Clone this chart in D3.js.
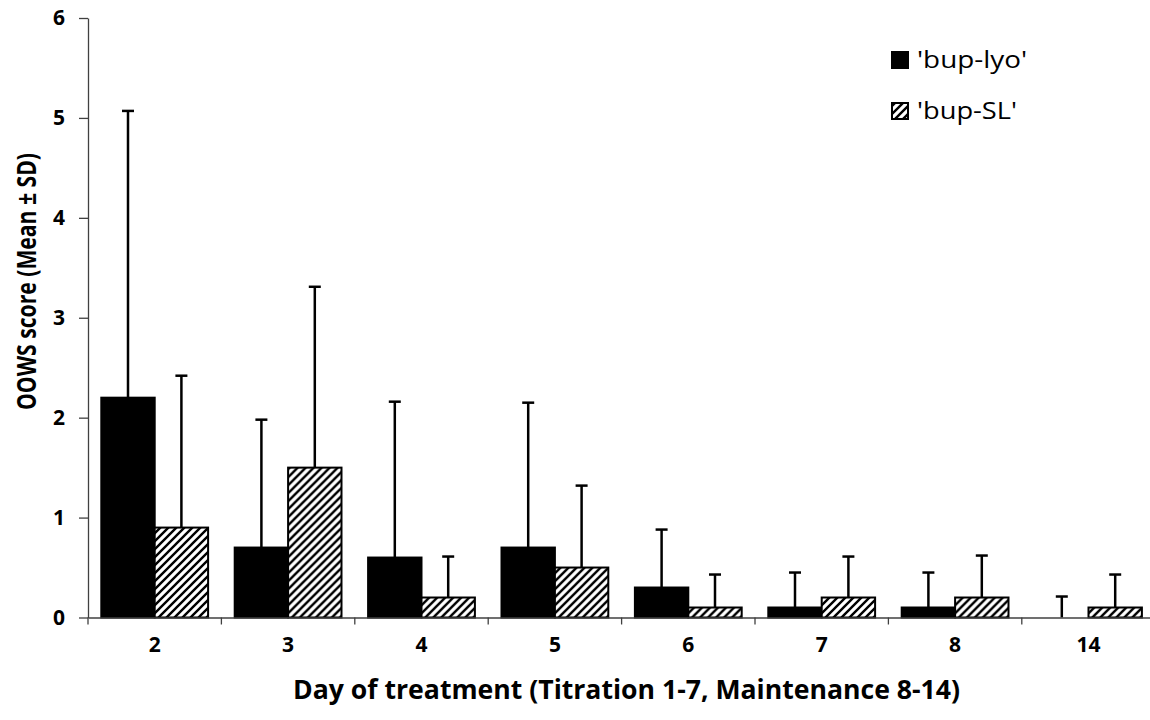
<!DOCTYPE html>
<html>
<head>
<meta charset="utf-8">
<script src="https://cdn.jsdelivr.net/npm/d3@7"></script>
<style>
html,body{margin:0;padding:0;background:#fff;}
svg{display:block;font-family:"Open Sans","Noto Sans",sans-serif;}
</style>
</head>
<body>
<svg id="chart" width="1150" height="720"></svg>
<script>
const days = ["2","3","4","5","6","7","8","14"];
const seriesNames = ["'bup-lyo'","'bup-SL'"];
const lyoMean = [2.2,0.7,0.6,0.7,0.3,0.1,0.1,0.0];
const lyoSD   = [2.87,1.28,1.56,1.45,0.58,0.35,0.35,0.21];
const slMean  = [0.9,1.5,0.2,0.5,0.1,0.2,0.2,0.1];
const slSD    = [1.52,1.81,0.41,0.82,0.33,0.41,0.42,0.33];
const yTicks  = [0,1,2,3,4,5,6];
const yTitle = "OOWS score (Mean \u00b1 SD)";
const xTitle = "Day of treatment (Titration 1-7, Maintenance 8-14)";

const svg = d3.select("#chart");
const x0 = 88, x1 = 88 + 8*133.4, yBase = 617.5, yTop = 18;

const defs = svg.append("defs");
const pat = defs.append("pattern").attr("id","hatch").attr("patternUnits","userSpaceOnUse")
  .attr("width",8).attr("height",8);
pat.append("rect").attr("width",8).attr("height",8).attr("fill","#fff");
pat.append("path").attr("d","M-2,2 L2,-2 M0,8 L8,0 M6,10 L10,6")
  .attr("stroke","#000").attr("stroke-width",2.4);

const x = d3.scaleBand().domain(days).range([x0,x1]).paddingInner(0).paddingOuter(0);
const inner = d3.scaleBand().domain([0,1]).range([13.3, x.bandwidth()-13.3]);
const y = d3.scaleLinear().domain([0,6]).range([yBase,yTop]);

const data = days.map((d,i)=>({day:d, vals:[
  {s:0, m:lyoMean[i], sd:lyoSD[i]},
  {s:1, m:slMean[i], sd:slSD[i]}]}));

const g = svg.append("g");
const groups = g.selectAll("g.day").data(data).join("g")
  .attr("transform",d=>`translate(${x(d.day)},0)`);

groups.selectAll("g.err").data(d=>d.vals).join("g").each(function(v){
  const cx = inner(v.s) + inner.bandwidth()/2;
  const sel = d3.select(this);
  sel.append("line").attr("x1",cx).attr("x2",cx).attr("y1",y(v.m)).attr("y2",y(v.m+v.sd))
    .attr("stroke","#000").attr("stroke-width",2.5);
  sel.append("line").attr("x1",cx-6).attr("x2",cx+6).attr("y1",y(v.m+v.sd)).attr("y2",y(v.m+v.sd))
    .attr("stroke","#000").attr("stroke-width",2.5);
});

groups.selectAll("rect.bar").data(d=>d.vals.filter(v=>v.m>0)).join("rect")
  .attr("x",v=>inner(v.s)).attr("width",inner.bandwidth())
  .attr("y",v=>y(v.m)).attr("height",v=>yBase-y(v.m))
  .attr("fill",v=>v.s===0?"#000":"url(#hatch)")
  .attr("stroke","#000").attr("stroke-width",2);

const axisColor = "#404040";
const yAxis = svg.append("g").attr("transform",`translate(${x0},0)`)
  .call(d3.axisLeft(y).tickValues(yTicks).tickFormat(d3.format("d")).tickSize(9).tickSizeOuter(0).tickPadding(14));
yAxis.select(".domain").attr("stroke",axisColor).attr("stroke-width",1.3);
yAxis.selectAll(".tick line").attr("stroke",axisColor).attr("stroke-width",1.3);
yAxis.selectAll(".tick text").attr("font-size",21).attr("font-weight","bold").attr("fill","#000")
  .attr("font-family","'Open Sans',sans-serif");

const xAxis = svg.append("g").attr("transform",`translate(0,${yBase})`)
  .call(d3.axisBottom(x).tickSize(0).tickPadding(20));
xAxis.select(".domain").attr("stroke",axisColor).attr("stroke-width",1.3);
xAxis.selectAll(".tick text").attr("font-size",21).attr("font-weight","bold").attr("fill","#000")
  .attr("font-family","'Open Sans',sans-serif");
svg.append("g").selectAll("line").data(days.concat(["end"])).join("line")
  .attr("x1",(d,i)=>x0+i*x.step()).attr("x2",(d,i)=>x0+i*x.step())
  .attr("y1",yBase).attr("y2",yBase+7).attr("stroke",axisColor).attr("stroke-width",1.3);

svg.append("text").attr("x",293).attr("y",699)
  .attr("font-size",26).attr("font-weight","bold")
  .attr("textLength",667).attr("lengthAdjust","spacingAndGlyphs").text(xTitle);
svg.append("text").attr("transform","translate(36,410) rotate(-90)")
  .attr("font-size",27).attr("font-weight","bold")
  .attr("textLength",257).attr("lengthAdjust","spacingAndGlyphs").text(yTitle);

const leg = svg.append("g").attr("transform","translate(891,51)");
const legLens = [110,100];
seriesNames.forEach((n,i)=>{
  leg.append("rect").attr("x",1).attr("y",i*51+1).attr("width",16).attr("height",16)
    .attr("fill",i===0?"#000":"url(#hatch)").attr("stroke","#000").attr("stroke-width",2);
  leg.append("text").attr("x",26).attr("y",i*51+17).attr("font-size",24)
    .attr("textLength",legLens[i]).attr("lengthAdjust","spacingAndGlyphs").text(n);
});
</script>
</body>
</html>
